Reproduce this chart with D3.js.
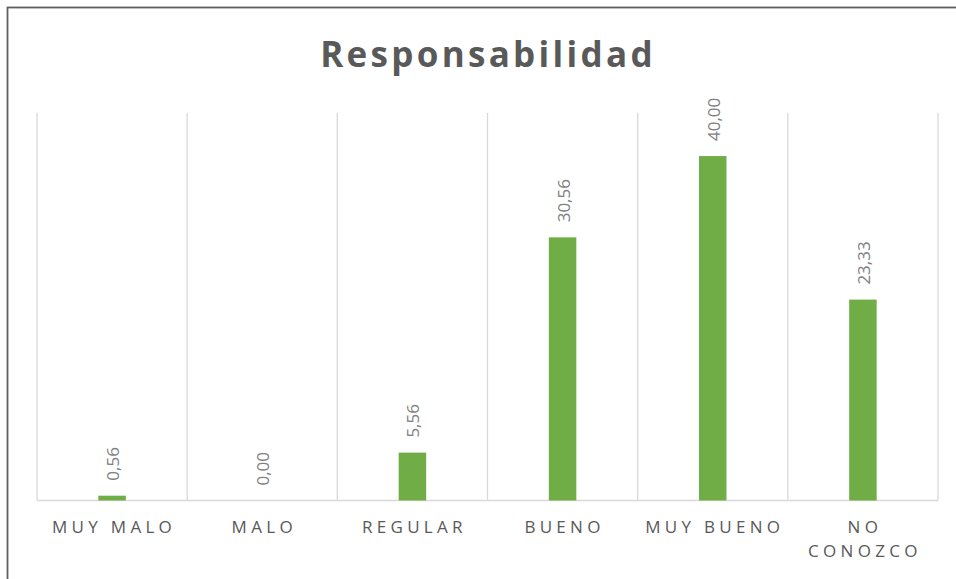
<!DOCTYPE html>
<html>
<head>
<meta charset="utf-8">
<script src="https://cdn.jsdelivr.net/npm/d3@7"></script>
<style>
  body { margin: 0; background: #fff; }
  svg { display: block; font-family: "Open Sans", "Noto Sans", sans-serif; }
</style>
</head>
<body>
<div id="chart"></div>
<script>
(function(){
    // Data
    const categories = ["MUY MALO", "MALO", "REGULAR", "BUENO", "MUY BUENO", "NO CONOZCO"];
    const values = [0.56, 0.00, 5.56, 30.56, 40.00, 23.33];
    const labelLines = [["MUY MALO"], ["MALO"], ["REGULAR"], ["BUENO"], ["MUY BUENO"], ["NO", "CONOZCO"]];
    const chartTitle = "Responsabilidad";

    const W = 956, H = 579;
    const plot = { left: 37, right: 938, top: 113, bottom: 500.5 };

    const svg = d3.select("#chart")
        .append("svg")
        .attr("width", W)
        .attr("height", H);

    // Chart frame (runs off the bottom/right edge)
    svg.append("rect")
        .attr("x", 7.5)
        .attr("y", 7.5)
        .attr("width", 1000)
        .attr("height", 700)
        .attr("fill", "#fff")
        .attr("stroke", "#5f5f5f")
        .attr("stroke-width", 1.8);

    const x = d3.scaleBand()
        .domain(categories)
        .range([plot.left, plot.right])
        .paddingInner(0)
        .paddingOuter(0);

    const y = d3.scaleLinear()
        .domain([0, 45])
        .range([plot.bottom, plot.top]);

    // Vertical grid lines at category boundaries
    const bounds = categories.map(c => x(c)).concat([x(categories[categories.length - 1]) + x.bandwidth()]);
    svg.selectAll(".vgrid")
        .data(bounds)
        .enter()
        .append("line")
        .attr("class", "vgrid")
        .attr("x1", d => d)
        .attr("x2", d => d)
        .attr("y1", y(45))
        .attr("y2", y(0))
        .attr("stroke", "#d9d9d9")
        .attr("stroke-width", 1.3);

    // Baseline
    svg.append("line")
        .attr("x1", plot.left)
        .attr("x2", plot.right)
        .attr("y1", y(0))
        .attr("y2", y(0))
        .attr("stroke", "#d9d9d9")
        .attr("stroke-width", 1.5);

    const barW = 27.5;

    // Bars
    svg.selectAll(".bar")
        .data(values)
        .enter()
        .append("rect")
        .attr("class", "bar")
        .attr("x", (d, i) => x(categories[i]) + x.bandwidth() / 2 - barW / 2)
        .attr("y", d => y(d))
        .attr("width", barW)
        .attr("height", d => y(0) - y(d))
        .attr("fill", "#70ad47");

    // Data labels (rotated)
    svg.selectAll(".val")
        .data(values)
        .enter()
        .append("text")
        .attr("class", "val")
        .attr("transform", (d, i) => `translate(${x(categories[i]) + x.bandwidth() / 2 + 1}, ${y(d) - 15}) rotate(-90)`)
        .attr("dy", "0.35em")
        .attr("text-anchor", "start")
        .attr("fill", "#808080")
        .style("font-size", "17px")
        .text(d => d.toFixed(2).replace(".", ","));

    // Category labels
    const cat = svg.selectAll(".cat")
        .data(labelLines)
        .enter()
        .append("text")
        .attr("class", "cat")
        .attr("x", (d, i) => x(categories[i]) + x.bandwidth() / 2 + 2)
        .attr("y", 533)
        .attr("text-anchor", "middle")
        .attr("fill", "#595959")
        .style("font-size", "17px")
        .style("letter-spacing", "4.3px");

    cat.selectAll("tspan")
        .data(d => d)
        .enter()
        .append("tspan")
        .attr("x", function() { return d3.select(this.parentNode).attr("x"); })
        .attr("dy", (d, i) => i === 0 ? 0 : 24)
        .text(d => d);

    // Title
    svg.append("text")
        .attr("x", 488)
        .attr("y", 67)
        .attr("text-anchor", "middle")
        .attr("fill", "#595959")
        .style("font-size", "35px")
        .style("font-weight", "bold")
        .style("letter-spacing", "3.3px")
        .text(chartTitle);
})();
</script>
</body>
</html>
